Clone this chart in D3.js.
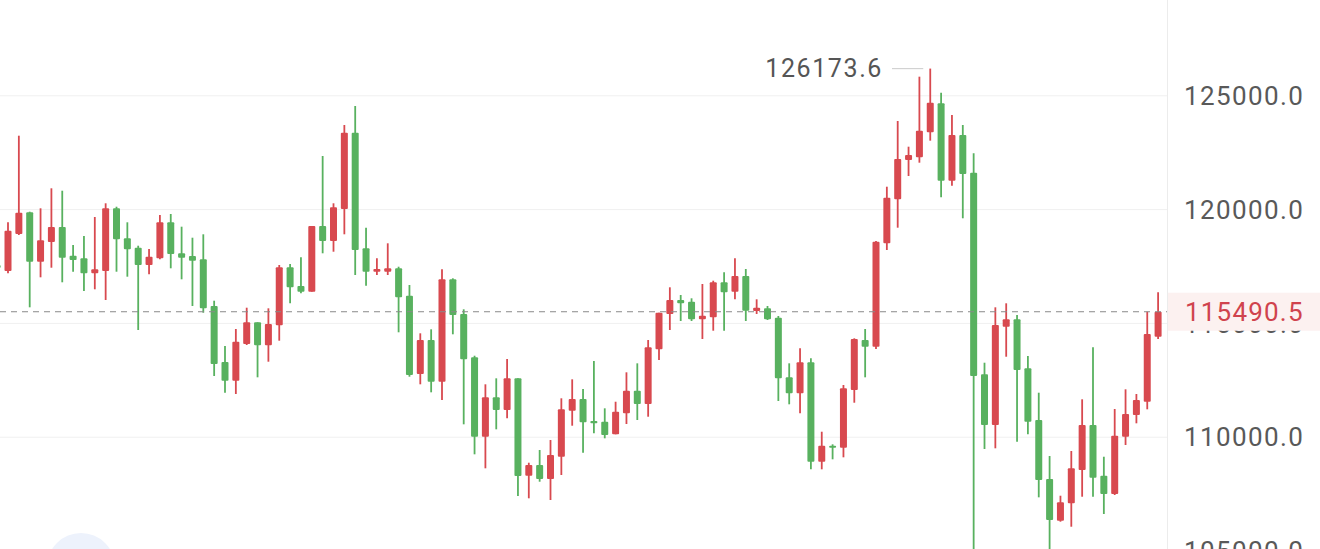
<!DOCTYPE html>
<html>
<head>
<meta charset="utf-8">
<script src="https://cdn.jsdelivr.net/npm/d3@7"></script>
<style>
  html, body { margin: 0; padding: 0; background: #ffffff; overflow: hidden; }
  svg { display: block; }
</style>
</head>
<body>
<svg id="chart" width="1320" height="549"></svg>
<script>
// Daily candles, 2025-07-12 .. 2025-10-27
const dates = [
 "07-12","07-13","07-14","07-15","07-16","07-17","07-18","07-19","07-20","07-21","07-22","07-23","07-24","07-25","07-26","07-27","07-28","07-29","07-30","07-31",
 "08-01","08-02","08-03","08-04","08-05","08-06","08-07","08-08","08-09","08-10","08-11","08-12","08-13","08-14","08-15","08-16","08-17","08-18","08-19","08-20",
 "08-21","08-22","08-23","08-24","08-25","08-26","08-27","08-28","08-29","08-30","08-31","09-01","09-02","09-03","09-04","09-05","09-06","09-07","09-08","09-09",
 "09-10","09-11","09-12","09-13","09-14","09-15","09-16","09-17","09-18","09-19","09-20","09-21","09-22","09-23","09-24","09-25","09-26","09-27","09-28","09-29",
 "09-30","10-01","10-02","10-03","10-04","10-05","10-06","10-07","10-08","10-09","10-10","10-11","10-12","10-13","10-14","10-15","10-16","10-17","10-18","10-19",
 "10-20","10-21","10-22","10-23","10-24","10-25","10-26","10-27"
];
const open = [
 117530,117280,118906,119859,117689,118554,119213,117952,117838,117179,117280,120035,118717,118304,117544,117838,119420,118058,117939,117794,
 115742,113282,112460,114072,115026,114015,114894,117443,116621,116371,119257,118598,120004,123357,118278,117249,117249,117399,116195,112754,
 114248,112416,116915,115391,113488,110000,111730,111172,112565,108286,108756,108141,109120,111142,111656,110689,110658,110105,111027,112020,
 111436,113840,115391,116006,115931,115158,115246,116784,116371,117060,115523,115641,115228,112609,111906,113268,108901,109604,109516,112051,
 114248,113954,118497,120431,122157,122276,123375,124649,121248,123256,121599,112741,110513,114833,115158,113005,110733,108141,106308,107073,
 108536,110513,108286,107482,110000,110953,111537,114393
];
const high = [
 117900,119420,123225,119886,120035,120914,120808,118423,118818,119653,120255,120105,119420,118392,118247,119741,119785,119227,118743,118893,
 115975,113985,114732,115668,115026,115641,117544,117588,117882,119257,122333,120255,123695,124530,119183,117838,118497,117469,116665,114543,
 114718,117355,116959,115597,113558,112302,112565,113413,112565,108857,109415,109854,111687,112521,112095,113325,111247,111537,112829,113224,
 114248,115448,116564,116226,116081,116709,116854,117223,117838,117368,116037,115742,115303,113224,113884,113444,110219,109665,112271,114323,
 114732,118598,120984,123871,122742,125818,126173.6,125115,124135,123695,122452,113251,115685,115861,115347,113545,111933,109151,107407,109371,
 111643,113928,109120,111216,112082,111875,115492,116344
];
const low = [
 117250,117179,118862,115685,117003,117425,116784,117249,116401,116476,116006,117249,117030,114688,117135,117794,117399,116915,115742,115448,
 112666,111933,111875,114029,112609,113295,114218,115861,116300,116371,118058,118128,118893,117104,116634,117104,117104,114587,112636,112302,
 111950,111612,114499,110544,109226,108611,110324,110808,107394,107293,108022,107218,108316,110483,109296,110149,109929,110105,110557,110733,
 110878,113369,114688,115083,115083,114292,114657,114657,116037,115083,115391,115127,111568,111423,111027,108567,108567,109006,109094,111493,
 112609,113853,118203,119183,121454,122039,123006,120518,121028,119596,102000,109459,109490,113514,109780,110105,107336,103600,106265,106045,
 107363,107363,106603,107438,109635,110588,111203,114292
];
const close = [
 117420,119051,119842,117689,118629,119213,117865,117763,117179,117355,120035,118673,118234,117544,117908,119420,118027,117865,117733,115641,
 113194,112460,114174,115026,114015,114951,117443,116564,116371,119257,118598,120079,123357,118203,117249,117368,117399,116124,112710,114248,
 112416,116915,115347,113400,109999,111730,111172,112565,108272,108756,108141,109195,111203,111656,110632,110588,110074,111098,112020,111436,
 113927,115448,116006,115861,115158,115316,116784,116344,117060,115536,115668,115158,112565,111906,113268,108901,109604,109516,112126,114292,
 113954,118568,120501,122201,122377,123445,124675,121248,123256,121542,112666,110513,114907,115158,112930,110658,108097,106339,107117,108611,
 110513,108198,107482,110043,110997,111612,114512,115490.5
];
const yTicks = [105000, 110000, 115000, 120000, 125000];
const lastPrice = 115490.5;
const highLabel = "126173.6";
const highValue = 126173.6;

const W = 1320, H = 549;
const plotRight = 1167;
const upColor = "#d8494f", downColor = "#58b15f";
const fontFam = "Roboto, 'Liberation Sans', sans-serif";

const svg = d3.select("#chart");

// background decoration (floating button, partially visible)
svg.append("circle").attr("cx", 81).attr("cy", 567).attr("r", 34).attr("fill", "#edf2fc");

const y = d3.scaleLinear().domain([110000, 125000]).range([436.7, 95.3]);
const x = d3.scalePoint().domain(d3.range(dates.length)).range([-2.85, 1158.1]);

// grid + axis labels
const axis = d3.axisRight(y)
  .tickValues(yTicks)
  .tickSize(plotRight)
  .tickPadding(17)
  .tickFormat(d => d.toFixed(1));
const gAxis = svg.append("g").call(axis);
gAxis.select(".domain").remove();
gAxis.selectAll(".tick line").attr("stroke", "#f0f0f0").attr("stroke-width", 1);
gAxis.selectAll(".tick text")
  .attr("fill", "#595959")
  .attr("font-family", fontFam)
  .attr("font-size", 26)
  .attr("letter-spacing", 1.4)
  .attr("dy", "0.355em");

// vertical separator
svg.append("line").attr("x1", plotRight + 0.5).attr("x2", plotRight + 0.5)
  .attr("y1", 0).attr("y2", H).attr("stroke", "#ececec").attr("stroke-width", 1);

// candles
const bodyW = 7;
const candles = svg.append("g");
dates.forEach((d, i) => {
  const o = open[i], c = close[i], h = high[i], l = low[i];
  const col = c >= o ? upColor : downColor;
  const cx = x(i);
  candles.append("line")
    .attr("x1", cx).attr("x2", cx)
    .attr("y1", y(h)).attr("y2", y(l))
    .attr("stroke", col).attr("stroke-width", 1.8);
  const top = y(Math.max(o, c)), bot = y(Math.min(o, c));
  const hgt = Math.max(bot - top, 2);
  candles.append("rect")
    .attr("x", cx - bodyW / 2).attr("width", bodyW)
    .attr("y", (top + bot) / 2 - hgt / 2).attr("height", hgt)
    .attr("rx", 1)
    .attr("fill", col);
});

// current price dashed line
svg.append("line")
  .attr("x1", 0).attr("x2", plotRight)
  .attr("y1", y(lastPrice)).attr("y2", y(lastPrice))
  .attr("stroke", "#8a8a8a").attr("stroke-width", 1)
  .attr("stroke-dasharray", "6,5");

// price tag
svg.append("rect")
  .attr("x", plotRight + 1).attr("y", y(lastPrice) - 19)
  .attr("width", W - plotRight).attr("height", 38)
  .attr("fill", "#fcf1f0");
svg.append("text")
  .attr("x", 1185).attr("y", y(lastPrice)).attr("dy", "0.355em")
  .attr("fill", "#d0434d")
  .attr("font-family", fontFam)
  .attr("font-size", 26).attr("letter-spacing", 1.2)
  .text(lastPrice.toFixed(1));

// high annotation
const hiIdx = high.indexOf(highValue);
const hy = y(highValue);
svg.append("line")
  .attr("x1", 892).attr("x2", x(hiIdx) - 7)
  .attr("y1", hy).attr("y2", hy)
  .attr("stroke", "#d2d2d2").attr("stroke-width", 1.2);
svg.append("text")
  .attr("x", 883).attr("y", hy).attr("dy", "0.355em")
  .attr("text-anchor", "end")
  .attr("fill", "#555555")
  .attr("font-family", fontFam)
  .attr("font-size", 25).attr("letter-spacing", 1.6)
  .text(highLabel);
</script>
</body>
</html>
